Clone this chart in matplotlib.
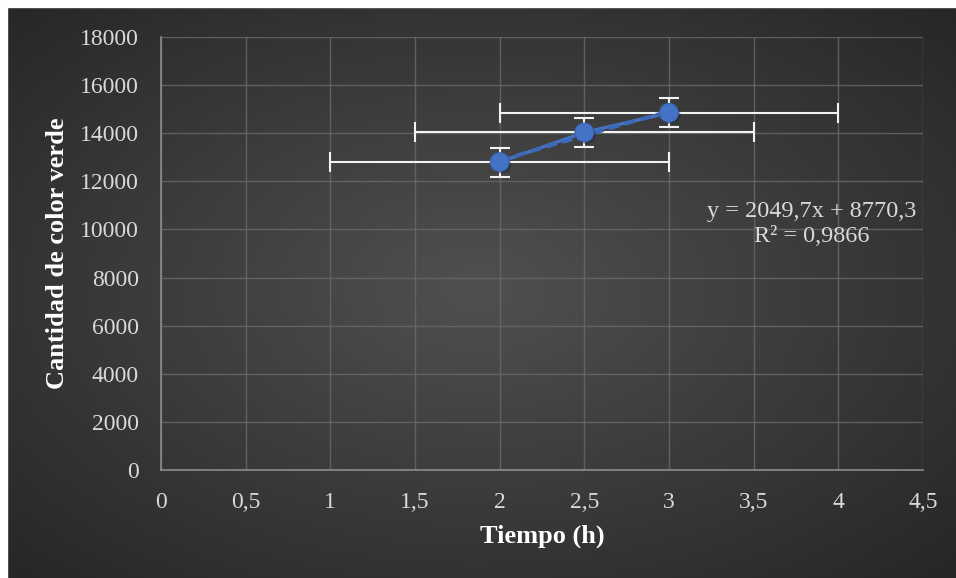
import numpy as np
import matplotlib.pyplot as plt
import matplotlib.patheffects as pe
from matplotlib.patches import Rectangle

# Data
tiempo = [2, 2.5, 3]
verde = [12800, 14033, 14850]
err_x = [1, 1, 1]
err_y = [600, 600, 600]

x_ticks = [0, 0.5, 1, 1.5, 2, 2.5, 3, 3.5, 4, 4.5]
x_tick_labels = ["0", "0,5", "1", "1,5", "2", "2,5", "3", "3,5", "4", "4,5"]
y_ticks = list(range(0, 18001, 2000))

blue = "#4472C4"
text_col = "#D9D9D9"

plt.rcParams['font.family'] = ['Liberation Serif', 'DejaVu Serif']

fig = plt.figure(figsize=(9.56, 5.78), dpi=100, facecolor="#272727")

# dark radial background (Excel style)
bg = fig.add_axes([0, 0, 1, 1])
bg.axis("off")
yy, xx = np.mgrid[-1:1:300j, -1:1:500j]
r = np.clip(np.sqrt(xx**2 + yy**2) / np.sqrt(2), 0, 1)
centre = np.array([0x50, 0x50, 0x50]) / 255
edge = np.array([0x26, 0x26, 0x26]) / 255
img = centre + (edge - centre) * r[..., None]
bg.imshow(img, aspect="auto", extent=[0, 1, 0, 1], interpolation="bilinear")
bg.set_xlim(0, 1)
bg.set_ylim(0, 1)
# white strips at top and left
fig.patches.append(Rectangle((0, 1 - 7/578), 1, 7/578, transform=fig.transFigure,
                             color="white", zorder=5))
fig.patches.append(Rectangle((0, 0), 7/956, 1, transform=fig.transFigure,
                             color="white", zorder=5))

ax = fig.add_axes([161/956, 1 - 470/578, (923 - 161)/956, (470 - 37)/578])
ax.patch.set_alpha(0)

ax.errorbar(tiempo, verde, xerr=err_x, yerr=err_y, fmt="none",
            ecolor="#F2F2F2", elinewidth=1.5, capsize=7, capthick=1.5, zorder=2)

# connecting line
ax.plot(tiempo, verde, color=blue, lw=2.4, zorder=3)

# linear trendline
slope, intercept = np.polyfit(tiempo, verde, 1)
tx = np.array([min(tiempo), max(tiempo)])
ax.plot(tx, slope * tx + intercept, color="#3D68B8", lw=2.6, ls=(0, (3, 1.5)), zorder=3.5)

# markers
ax.plot(tiempo, verde, ls="none", marker="o", markersize=13.5,
        markerfacecolor=blue, markeredgecolor="#3A64B0", markeredgewidth=0.8, zorder=4,
        path_effects=[pe.SimplePatchShadow(offset=(1.5, -1.5), alpha=0.4), pe.Normal()])

ax.text(3.845, 10230, "y = 2049,7x + 8770,3\nR² = 0,9866", ha="center", va="center",
        multialignment="center", color=text_col, fontsize=17.5, linespacing=1.2)

ax.set_xlim(0, 4.5)
ax.set_ylim(0, 18000)
ax.set_xticks(x_ticks)
ax.set_xticklabels(x_tick_labels)
ax.set_yticks(y_ticks)
ax.tick_params(length=0, labelsize=17, labelcolor=text_col, pad=16)
ax.grid(True, color="#6A6A6A", lw=1, alpha=0.8)
ax.set_axisbelow(True)
for s in ["top", "right"]:
    ax.spines[s].set_visible(False)
for s in ["left", "bottom"]:
    ax.spines[s].set_color("#8C8C8C")
    ax.spines[s].set_linewidth(1.2)

ax.set_xlabel("Tiempo (h)", fontsize=19, fontweight="bold", color="white", labelpad=8)
ax.set_ylabel("Cantidad de color verde", fontsize=19, fontweight="bold", color="white", labelpad=8)

fig.savefig("out.png", dpi=100, facecolor=fig.get_facecolor())
